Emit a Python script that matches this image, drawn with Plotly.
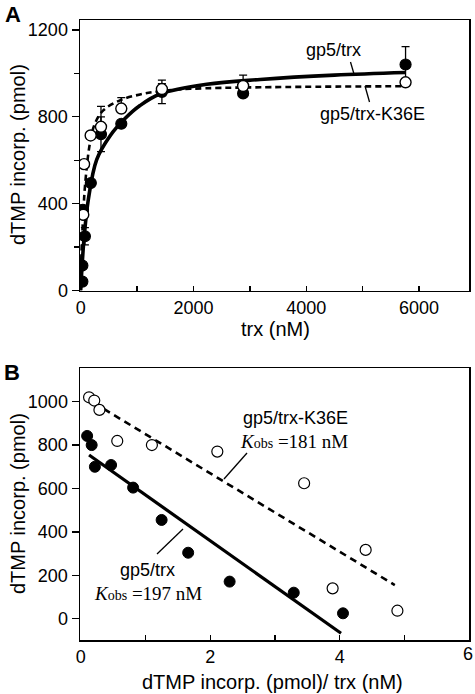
import plotly.graph_objects as go

W, H = 475, 694

# ---------------- Panel A data ----------------
trx_wt = [30, 30, 40, 40, 75, 180, 360, 720, 1440, 2880, 5760]
dtmp_wt = [41, 115, 360, 372, 250, 495, 720, 768, 915, 908, 1041]
err_wt = [0, 0, 0, 0, 40, 0, 80, 0, 54, 0, 82]

trx_k36e = [46, 60, 177, 360, 720, 1440, 2880, 5760]
dtmp_k36e = [349, 582, 714, 754, 838, 928, 942, 959]
err_k36e_up = [0, 0, 0, 94, 50, 25, 50, 0]

fit_wt_x = [0, 30, 60, 135, 284, 520, 786, 1052, 1407, 2236, 3182, 4500, 5760]
fit_wt_y = [0, 135, 240, 418, 603, 712, 792, 852, 905, 950, 972, 992, 1004]

fit_k36e_x = [0, 15, 46, 76, 165, 254, 401, 697, 1052, 1407, 1940, 3182, 5760]
fit_k36e_y = [0, 180, 350, 480, 680, 770, 830, 876, 903, 918, 929, 936, 941]

# ---------------- Panel B data ----------------
eh_wt_x = [0.10, 0.17, 0.22, 0.47, 0.81, 1.25, 1.66, 2.30, 3.29, 4.05]
eh_wt_y = [842, 800, 700, 708, 604, 455, 304, 171, 120, 25]

eh_k36e_x = [0.13, 0.21, 0.29, 0.565, 1.10, 2.11, 3.45, 3.89, 4.40, 4.89]
eh_k36e_y = [1020, 1005, 962, 819, 800, 770, 624, 140, 317, 37]

line_wt_x = [0.13, 4.02]
line_wt_y = [754, -67]
line_k36e_x = [0.20, 4.85]
line_k36e_y = [995, 155]

FONT = "Liberation Sans, Arial, Helvetica, sans-serif"
SERIF = "Liberation Serif, Times New Roman, serif"


def px(x):
    return x / W


def py(y):
    return 1 - y / H


fig = go.Figure()

# Panel A curves
fig.add_trace(go.Scatter(x=fit_k36e_x, y=fit_k36e_y, mode="lines", line_shape="spline",
                         line=dict(color="black", width=2.6, dash="6px,4px"),
                         xaxis="x", yaxis="y", hoverinfo="skip"))
fig.add_trace(go.Scatter(x=fit_wt_x, y=fit_wt_y, mode="lines", line_shape="spline",
                         line=dict(color="black", width=3.6),
                         xaxis="x", yaxis="y", hoverinfo="skip"))
# Panel A points
fig.add_trace(go.Scatter(x=trx_wt, y=dtmp_wt, mode="markers",
                         marker=dict(symbol="circle", size=11, color="black",
                                     line=dict(color="black", width=1.2)),
                         error_y=dict(type="data", array=err_wt, symmetric=True,
                                      color="black", thickness=1.3, width=4),
                         xaxis="x", yaxis="y"))
fig.add_trace(go.Scatter(x=trx_k36e, y=dtmp_k36e, mode="markers",
                         marker=dict(symbol="circle", size=11, color="white",
                                     line=dict(color="black", width=1.4)),
                         error_y=dict(type="data", array=err_k36e_up,
                                      arrayminus=[0] * len(err_k36e_up), symmetric=False,
                                      color="black", thickness=1.3, width=4),
                         xaxis="x", yaxis="y"))

# Panel B lines
fig.add_trace(go.Scatter(x=line_k36e_x, y=line_k36e_y, mode="lines",
                         line=dict(color="black", width=2.6, dash="7px,5px"),
                         xaxis="x2", yaxis="y2", hoverinfo="skip"))
fig.add_trace(go.Scatter(x=line_wt_x, y=line_wt_y, mode="lines",
                         line=dict(color="black", width=3.2),
                         xaxis="x2", yaxis="y2", hoverinfo="skip"))
# Panel B points
fig.add_trace(go.Scatter(x=eh_wt_x, y=eh_wt_y, mode="markers",
                         marker=dict(symbol="circle", size=11, color="black",
                                     line=dict(color="black", width=1)),
                         xaxis="x2", yaxis="y2"))
fig.add_trace(go.Scatter(x=eh_k36e_x, y=eh_k36e_y, mode="markers",
                         marker=dict(symbol="circle", size=11, color="white",
                                     line=dict(color="black", width=1.2)),
                         xaxis="x2", yaxis="y2"))

axis_common = dict(showline=True, linecolor="black", linewidth=1.5, mirror=True,
                   showgrid=False, zeroline=False, automargin=False,
                   tickfont=dict(family=FONT, size=18, color="black"),
                   tickcolor="black", tickwidth=1.3)

xdom = [px(80), px(469.3)]

fig.update_layout(
    width=W, height=H,
    margin=dict(l=0, r=0, t=0, b=0, pad=0),
    paper_bgcolor="white", plot_bgcolor="white",
    showlegend=False,
    font=dict(family=FONT, color="black"),
    xaxis=dict(axis_common, domain=xdom, range=[-12, 6890], tickmode="array",
               tickvals=[0, 2000, 4000, 6000], ticks="inside", ticklen=5,
               minor=dict(tickvals=[1000, 3000, 5000], ticks="inside", ticklen=5,
                          tickcolor="black", tickwidth=1.3),
               anchor="y"),
    yaxis=dict(axis_common, domain=[py(290.5), py(20)], range=[0, 1246], tickmode="array",
               tickvals=[0, 400, 800, 1200], ticks="outside", ticklen=7,
               minor=dict(tickvals=[200, 600, 1000], ticks="outside", ticklen=5,
                          tickcolor="black", tickwidth=1.3),
               anchor="x"),
    xaxis2=dict(axis_common, domain=xdom, range=[-0.01, 6.0], tickmode="array",
                tickvals=[0, 2, 4], ticks="inside", ticklen=5,
                minor=dict(tickvals=[1, 3, 5, 6], ticks="inside", ticklen=5,
                           tickcolor="black", tickwidth=1.3),
                anchor="y2"),
    yaxis2=dict(axis_common, domain=[py(640), py(368)], range=[-98, 1155], tickmode="array",
                tickvals=[0, 200, 400, 600, 800, 1000], ticks="outside", ticklen=7,
                anchor="x2"),
)

annots = []


def txt(x, y, text, size=18, family=FONT, angle=0, xanchor="center"):
    annots.append(dict(x=px(x), y=py(y), xref="paper", yref="paper", text=text,
                       showarrow=False, textangle=angle, xanchor=xanchor, yanchor="middle",
                       font=dict(family=family, size=size, color="black")))


# Panel labels
txt(13, 14, "<b>A</b>", size=22)
txt(12, 372, "<b>B</b>", size=22)

# Axis titles
txt(18, 155, "dTMP incorp. (pmol)", size=20, angle=-90)
txt(18, 504, "dTMP incorp. (pmol)", size=20, angle=-90)
txt(275, 329, "trx (nM)", size=20)
txt(272, 682, "dTMP incorp. (pmol)/ trx (nM)", size=20)

# last tick label of panel B x axis, sitting at the right edge
txt(475, 654, "6", size=18, xanchor="right")

# Panel A curve labels
txt(333, 50, "gp5/trx", size=18)
txt(372, 114, "gp5/trx-K36E", size=18)

# Panel B curve labels
txt(295, 418, "gp5/trx-K36E", size=18)
txt(238, 441, "<i>K</i><span style='font-size:14px'>obs</span> =181 nM", size=19,
    family=SERIF, xanchor="left")
txt(147, 570, "gp5/trx", size=18)
txt(92, 593, "<i>K</i><span style='font-size:14px'>obs</span> =197 nM", size=19,
    family=SERIF, xanchor="left")

fig.update_layout(annotations=annots)

shapes = []


def seg(x0, y0, x1, y1):
    shapes.append(dict(type="line", xref="paper", yref="paper",
                       x0=px(x0), y0=py(y0), x1=px(x1), y1=py(y1),
                       line=dict(color="black", width=1.3)))


seg(350.5, 62, 354, 74)
seg(365, 86, 369.5, 102)
seg(224, 479, 247, 453)
seg(157, 554, 183, 529)

fig.update_layout(shapes=shapes)

fig.write_html(
    "out.html",
    config={"displayModeBar": False, "staticPlot": True},
    post_script="document.body.style.margin='0';document.body.style.overflow='hidden';",
)
